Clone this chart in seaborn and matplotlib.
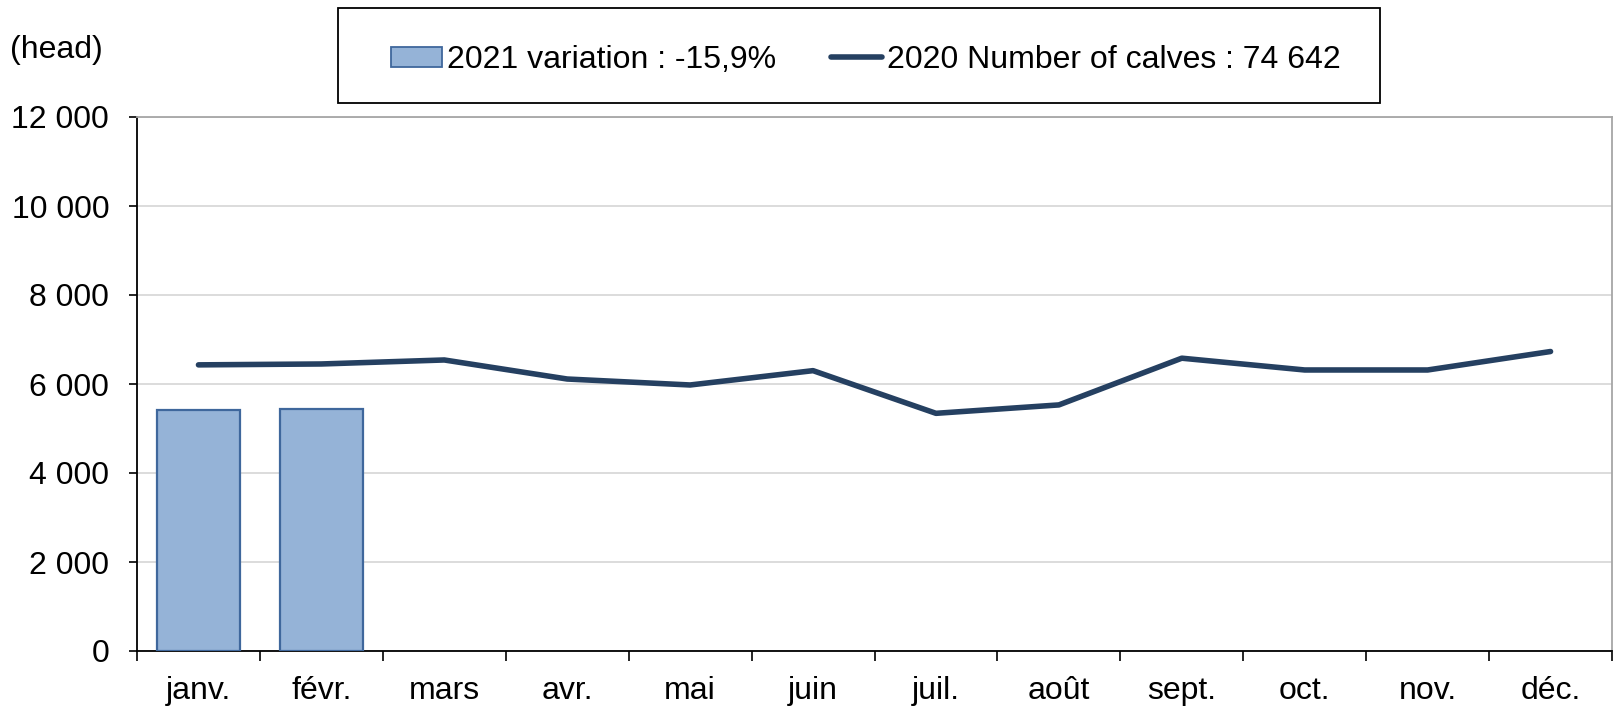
import numpy as np
import pandas as pd
import seaborn as sns
import matplotlib.pyplot as plt
from matplotlib.patches import Rectangle
from matplotlib.lines import Line2D
from matplotlib.ticker import FuncFormatter

# data
months = ['janv.', 'févr.', 'mars', 'avr.', 'mai', 'juin',
          'juil.', 'août', 'sept.', 'oct.', 'nov.', 'déc.']
calves_2021 = [5420, 5435]
calves_2020 = [6430, 6450, 6540, 6112, 5978, 6300, 5341, 5530, 6580, 6315, 6315, 6730]
y_ticks = [0, 2000, 4000, 6000, 8000, 10000, 12000]

label_bar = '2021 variation : -15,9%'
label_line = '2020 Number of calves : 74 642'

bar_fill = '#95B3D7'
bar_edge = '#3F679C'
line_color = '#254061'
FS = 23

sns.set_style('white')
plt.rcParams['font.family'] = ['Liberation Sans', 'DejaVu Sans']
plt.rcParams['font.size'] = FS
plt.rcParams['text.color'] = 'black'
plt.rcParams['xtick.color'] = 'black'
plt.rcParams['ytick.color'] = 'black'

W, H = 1617, 707
fig = plt.figure(figsize=(W / 100, H / 100), dpi=100)
ax = fig.add_axes([137 / W, 1 - 651 / H, (1612 - 137) / W, (651 - 117) / H])

df_bar = pd.DataFrame({'month': months[:len(calves_2021)], 'value': calves_2021})
sns.barplot(data=df_bar, x='month', y='value', order=months, ax=ax,
            color=bar_fill, saturation=1, width=0.67,
            edgecolor=bar_edge, linewidth=1.6, zorder=3)

df_line = pd.DataFrame({'pos': np.arange(len(months)), 'value': calves_2020})
sns.lineplot(data=df_line, x='pos', y='value', ax=ax, color=line_color,
             linewidth=4, solid_capstyle='round', zorder=4)

# axes
ax.set_xlim(-0.5, len(months) - 0.5)
ax.set_ylim(0, 12000)
ax.set_xlabel('')
ax.set_ylabel('')
ax.set_yticks(y_ticks)
ax.yaxis.set_major_formatter(FuncFormatter(lambda v, p: f'{int(v):,}'.replace(',', ' ')))
ax.grid(axis='y', color='#D9D9D9', linewidth=1.3, zorder=0)
ax.set_axisbelow(True)

# tick marks between categories, labels at centres
ax.set_xticks(np.arange(-0.5, len(months)), labels=[''] * (len(months) + 1))
ax.set_xticks(np.arange(len(months)), labels=months, minor=True)
ax.tick_params(axis='x', which='major', direction='out', length=7, width=1.2, color='black', bottom=True)
ax.tick_params(axis='x', which='minor', length=0, pad=18, labelsize=FS, labelcolor='black')
ax.tick_params(axis='y', direction='out', length=6, width=1.2, color='black', left=True, pad=14,
               labelsize=FS, labelcolor='black')

for s in ['left', 'bottom']:
    ax.spines[s].set_color('black')
    ax.spines[s].set_linewidth(1.3)
for s in ['top', 'right']:
    ax.spines[s].set_color('#A6A6A6')
    ax.spines[s].set_linewidth(1.3)

fig.text(10 / W, 1 - 50 / H, '(head)', fontsize=FS, va='center', ha='left', color='black')

# legend box
fig.patches.append(Rectangle((338 / W, 1 - 103 / H), (1380 - 338) / W, 95 / H,
                             transform=fig.transFigure, fill=False,
                             edgecolor='black', linewidth=1.3))
handles = [Rectangle((0, 0), 1, 1, facecolor=bar_fill, edgecolor=bar_edge, linewidth=1.3),
           Line2D([0], [0], color=line_color, linewidth=4, solid_capstyle='round')]
fig.legend(handles, [label_bar, label_line], loc='center left',
           bbox_to_anchor=(375 / W, 1 - 60 / H), ncol=2, frameon=False,
           borderpad=0, handlelength=1.6, handleheight=0.58, handletextpad=0.16,
           columnspacing=1.7, fontsize=FS, labelcolor='black')

fig.savefig('out.png', dpi=100)
